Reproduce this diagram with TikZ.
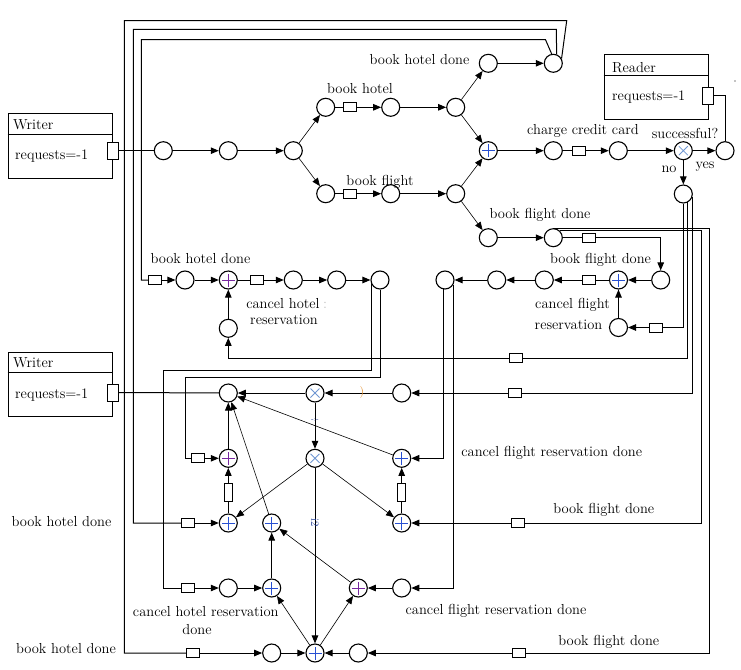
\documentclass[tikz,border=0pt]{standalone}
\usepackage{fontspec}
\usetikzlibrary{arrows.meta}
\definecolor{plb}{RGB}{40,80,210}
\definecolor{plp}{RGB}{120,40,160}
\definecolor{xcc}{RGB}{110,150,210}
\definecolor{orng}{RGB}{225,140,40}
\newcommand{\fsz}{\fontsize{14.5}{17}\selectfont}
\tikzset{
 st/.style={circle,draw,line width=1.1pt,minimum size=18pt,inner sep=0pt,fill=white},
 pl/.style={st,path picture={\draw[plb,line width=0.9pt]
   ([xshift=-6.5pt]path picture bounding box.center) -- ([xshift=6.5pt]path picture bounding box.center)
   ([yshift=-6.5pt]path picture bounding box.center) -- ([yshift=6.5pt]path picture bounding box.center);}},
 plq/.style={st,path picture={\draw[plp,line width=0.9pt]
   ([xshift=-6.5pt]path picture bounding box.center) -- ([xshift=6.5pt]path picture bounding box.center)
   ([yshift=-6.5pt]path picture bounding box.center) -- ([yshift=6.5pt]path picture bounding box.center);}},
 xo/.style={st,path picture={\draw[xcc,line width=0.8pt]
   ([shift={(-4.5pt,-4.5pt)}]path picture bounding box.center) -- ([shift={(4.5pt,4.5pt)}]path picture bounding box.center)
   ([shift={(-4.5pt,4.5pt)}]path picture bounding box.center) -- ([shift={(4.5pt,-4.5pt)}]path picture bounding box.center);}},
 hr/.style={draw,fill=white,line width=0.9pt,minimum width=13pt,minimum height=9pt,inner sep=0pt},
 vrr/.style={draw,fill=white,line width=0.9pt,minimum width=8pt,minimum height=18pt,inner sep=0pt},
 port/.style={draw,fill=white,line width=0.9pt,minimum width=11pt,minimum height=17pt,inner sep=0pt},
 box/.style={draw,line width=0.9pt,minimum width=104pt,minimum height=65pt,inner sep=0pt},
 lbl/.style={inner sep=0pt,anchor=base,font=\fsz},
 tl/.style={inner sep=0pt,anchor=base west,font=\fsz},
 ln/.style={line width=1pt},
 ar/.style={line width=1pt,-{Triangle[length=8pt,width=6.5pt]}},
 tar/.style={line width=0.6pt,-{Triangle[length=8pt,width=6.5pt]}},
}
\begin{document}
\begin{tikzpicture}[x=1pt,y=-1pt]
\useasboundingbox (0,0) rectangle (741,669);

% ---------- boxes ----------
\node[box] (W1) at (60,145.5) {};
\draw[line width=0.9pt] ([yshift=-22pt]W1.north west) -- ([yshift=-22pt]W1.north east);
\node[tl] (W1t) at (13,129) {Writer};
\node[tl] (W1r) at (15,159) {requests=-1};
\node[port] (wp1) at (112.5,150.7) {};

\node[box,minimum height=64pt] (W2) at (60,384) {};
\draw[line width=0.9pt] ([yshift=-21pt]W2.north west) -- ([yshift=-21pt]W2.north east);
\node[tl] (W2t) at (13,367) {Writer};
\node[tl] (W2r) at (15,398) {requests=-1};
\node[port] (wp2) at (112.5,392.5) {};

\node[box] (R) at (656,86.5) {};
\draw[line width=0.9pt] ([yshift=-22pt]R.north west) -- ([yshift=-22pt]R.north east);
\node[tl] (Rt) at (612,72) {Reader};
\node[tl] (Rr) at (612,100) {requests=-1};
\node[port] (rp) at (707.5,95.5) {};
\fill (735,81) circle (0.6pt);

% ---------- top section nodes ----------
\node[st] (c1) at (163.3,150.7) {};
\node[st] (c2) at (228.3,150.7) {};
\node[st] (c3) at (293.3,150.7) {};
\node[st] (c4) at (325.7,107.3) {};
\node[hr] (r1) at (350,107.3) {};
\node[st] (c5) at (390.7,107.3) {};
\node[st] (c6) at (455.7,107.3) {};
\node[st] (c7) at (488.3,63.3) {};
\node[st] (c8) at (553.3,63.3) {};
\node[st] (c9) at (325.7,193.7) {};
\node[hr] (r2) at (350,193.7) {};
\node[st] (c10) at (390.7,193.7) {};
\node[st] (c11) at (455.7,193.7) {};
\node[pl] (pl1) at (488.3,150.7) {};
\node[st] (c12) at (488.3,237.7) {};
\node[st] (c13) at (553.3,237.7) {};
\node[st] (c14) at (553.3,150.7) {};
\node[hr] (r3) at (579,150.7) {};
\node[st] (c15) at (618.3,150.7) {};
\node[xo] (x1) at (683.3,150.7) {};
\node[st] (c16) at (725,150.7) {};
\node[st] (c17) at (683.3,194) {};
\node[hr] (r10) at (589,237.7) {};

% right cancel-flight chain
\node[st] (c18) at (660.7,280) {};
\node[pl] (pl2) at (618.5,280) {};
\node[hr] (r4) at (589.3,280) {};
\node[st] (c19) at (544.3,280) {};
\node[st] (c19b) at (496.7,280) {};
\node[st] (c27) at (445,280) {};
\node[st] (c20) at (618.5,327.5) {};
\node[hr] (r5) at (656,327.5) {};

% left cancel-hotel chain
\node[hr] (r11) at (155,280) {};
\node[st] (c21) at (185,280) {};
\node[plq] (pl3) at (228.3,280) {};
\node[hr] (r16) at (256.7,280) {};
\node[st] (c22) at (293.3,280) {};
\node[st] (c23) at (336.7,280) {};
\node[st] (c24) at (380,280) {};
\node[st] (c25) at (228.3,328.3) {};
\node[hr] (r6) at (516,358.3) {};
\node[hr] (r7) at (515,393) {};

% ---------- lower section nodes ----------
\node[st] (A) at (228.3,393) {};
\node[xo] (X1) at (315,393) {};
\node[st] (c26) at (401.7,393) {};
\node[plq] (pl4) at (228.3,458.3) {};
\node[hr] (r15) at (197.7,458.3) {};
\node[xo] (X2) at (315,458.3) {};
\node[pl] (pl5) at (401.7,458.3) {};
\node[vrr] (vr1) at (228.3,492) {};
\node[vrr] (vr2) at (401.7,492) {};
\node[pl] (pl6) at (228.3,523) {};
\node[hr] (r12) at (188.3,523) {};
\node[pl] (pl7) at (271.7,523) {};
\node[pl] (pl8) at (401.7,523) {};
\node[hr] (r9) at (517.7,523) {};
\node[st] (c28) at (228.3,588) {};
\node[hr] (r14) at (188.3,588) {};
\node[pl] (pl9) at (271.7,588) {};
\node[plq] (pl10) at (358.3,588) {};
\node[st] (c29) at (401.7,588) {};
\node[st] (c30) at (271.7,653) {};
\node[hr] (r13) at (192.7,653) {};
\node[pl] (pl11) at (315,653) {};
\node[st] (c31) at (358.3,653) {};
\node[hr] (r8) at (519,653) {};

% ---------- helper coordinates ----------
\coordinate (k3) at (545.5,39.7);
\coordinate (k4) at (141.3,39.7);
\coordinate (k5) at (556.4,29.3);
\coordinate (k6) at (133.3,29.3);
\coordinate (k7) at (566.7,20.7);
\coordinate (k8) at (124.3,20.7);
\coordinate (k1) at (709.3,0);
\coordinate (k2) at (701,0);
\coordinate (k10) at (163.3,370);
\coordinate (k12) at (185.7,377.3);

% ---------- top connectors ----------
\draw[ln] (wp1) -- (c1);
\draw[ar] (c1) -- (c2);
\draw[ar] (c2) -- (c3);
\draw[tar] (c3) -- (c4);
\draw[tar] (c3) -- (c9);
\draw[ln] (c4) -- (r1);
\draw[ar] (r1) -- (c5);
\draw[ar] (c5) -- (c6);
\draw[tar] (c6) -- (c7);
\draw[ar] (c7) -- (c8);
\draw[tar] (c6) -- (pl1);
\draw[ln] (c9) -- (r2);
\draw[ar] (r2) -- (c10);
\draw[ar] (c10) -- (c11);
\draw[tar] (c11) -- (pl1);
\draw[tar] (c11) -- (c12);
\draw[ar] (c12) -- (c13);
\draw[ar] (pl1) -- (c14);
\draw[ln] (c14) -- (r3);
\draw[ar] (r3) -- (c15);
\draw[ar] (c15) -- (x1);
\draw[ar] (x1) -- (c16);
\draw[ar] (x1) -- (c17);
\draw[ln] (rp) -| (c16);

% book hotel done feedback lines
\draw[ln] (c8.100) -- (k3) -- (k4) |- (r11);
\draw[ar] (r11) -- (c21);
\draw[ln] (c8.70) -- (k5) -- (k6) |- (r12);
\draw[ar] (r12) -- (pl6);
\draw[ln] (c8.30) -- (k7) -- (k8) |- (r13);
\draw[ar] (r13) -- (c30);

% book flight done lines
\draw[ln] (c13.north) -- (c13.north -| k1) |- (r8);
\draw[ar] (r8) -- (c31);
\draw[ln] (c13.45) -- (c13.45 -| k2) |- (r9);
\draw[ar] (r9) -- (pl8);
\draw[ln] (c13) -- (r10);
\draw[ar] (r10) -| (c18);

% cancel flight chain
\draw[ar] (c18) -- (pl2);
\draw[ar] (c20) -- (pl2);
\draw[ln] (pl2) -- (r4);
\draw[ar] (r4) -- (c19);
\draw[ar] (c19) -- (c19b);
\draw[ar] (c19b) -- (c27);

% "no" branch lines
\draw[ln] (c17.south) |- (r5);
\draw[ar] (r5) -- (c20);
\draw[ln] (c17.-61) |- (r6);
\draw[ar] (r6) -| (c25);
\draw[ln] (c17.-21) |- (r7);
\draw[ar] (r7) -- (c26);

% cancel hotel chain
\draw[ar] (c21) -- (pl3);
\draw[ar] (c25) -- (pl3);
\draw[ln] (pl3) -- (r16);
\draw[ar] (r16) -- (c22);
\draw[ar] (c22) -- (c23);
\draw[ar] (c23) -- (c24);
\draw[ln] (c24.-157) |- (k10) |- (r14);
\draw[ar] (r14) -- (c28);
\draw[ln] (c24.south) |- (k12) |- (r15);
\draw[ar] (r15) -- (pl4);
\draw[ar] (c27.-100) |- (pl5);
\draw[ar] (c27.-30) |- (c29);

% ---------- lower connectors ----------
\draw[ln] (wp2) -- (A);
\draw[ar] (c26) -- (X1);
\draw[ar] (X1) -- (A);
\draw[ar] (X1) -- (X2);
\draw[tar] (X2) -- (pl6);
\draw[tar] (X2) -- (pl8);
\draw[ar] (X2) -- (pl11);
\draw[ar] (pl4) -- (A);
\draw[ln] (pl6) -- (vr1);
\draw[ar] (vr1) -- (pl4);
\draw[tar] (pl7) -- (A);
\draw[tar] (pl5) -- (A);
\draw[ln] (pl8) -- (vr2);
\draw[ar] (vr2) -- (pl5);
\draw[ar] (c28) -- (pl9);
\draw[ar] (pl9) -- (pl7);
\draw[tar] (pl10) -- (pl7);
\draw[ar] (c29) -- (pl10);
\draw[tar] (pl11) -- (pl9);
\draw[tar] (pl11) -- (pl10);
\draw[ar] (c30) -- (pl11);
\draw[ar] (c31) -- (pl11);

% small marks
\node[inner sep=0pt,text=orng,font=\fontsize{12}{12}\selectfont] (par) at (362,393) {)};
\node[inner sep=0pt,text=plb!70!black,font=\fontsize{7}{7}\selectfont] (m1) at (315,420) {-:-};
\node[inner sep=0pt,text=plb!70!black,font=\fontsize{11}{11}\selectfont,rotate=-90] (m2) at (315,523) {i2};

% ---------- labels ----------
\node[lbl] at (360,93.5) {book hotel};
\node[lbl] at (380,185) {book flight};
\node[lbl] at (419.5,64.5) {book hotel done};
\node[lbl] at (540,218.5) {book flight done};
\node[lbl] at (583,134.5) {charge credit card};
\node[lbl] at (685,138) {successful?};
\node[lbl] at (669,172.5) {no};
\node[lbl] at (705,168) {yes};
\node[lbl] at (600.5,263.5) {book flight done};
\node[lbl] at (572.5,308.5) {cancel flight};
\node[lbl] at (568.5,329) {reservation};
\node[lbl] at (200.5,263.5) {book hotel done};
\node[lbl] at (283,308) {cancel hotel};
\node[lbl,text=gray!50] at (325,308) {:};
\node[lbl] at (284,324.5) {reservation};
\node[lbl] at (205.8,616) {cancel hotel reservation};
\node[lbl] at (197,634.5) {done};
\node[lbl] at (61.5,526.5) {book hotel done};
\node[lbl] at (66,653.5) {book hotel done};
\node[lbl] at (551.7,456.5) {cancel flight reservation done};
\node[lbl] at (603.8,513.5) {book flight done};
\node[lbl] at (496,614.5) {cancel flight reservation done};
\node[lbl] at (608.8,645.5) {book flight done};
\end{tikzpicture}
\end{document}
